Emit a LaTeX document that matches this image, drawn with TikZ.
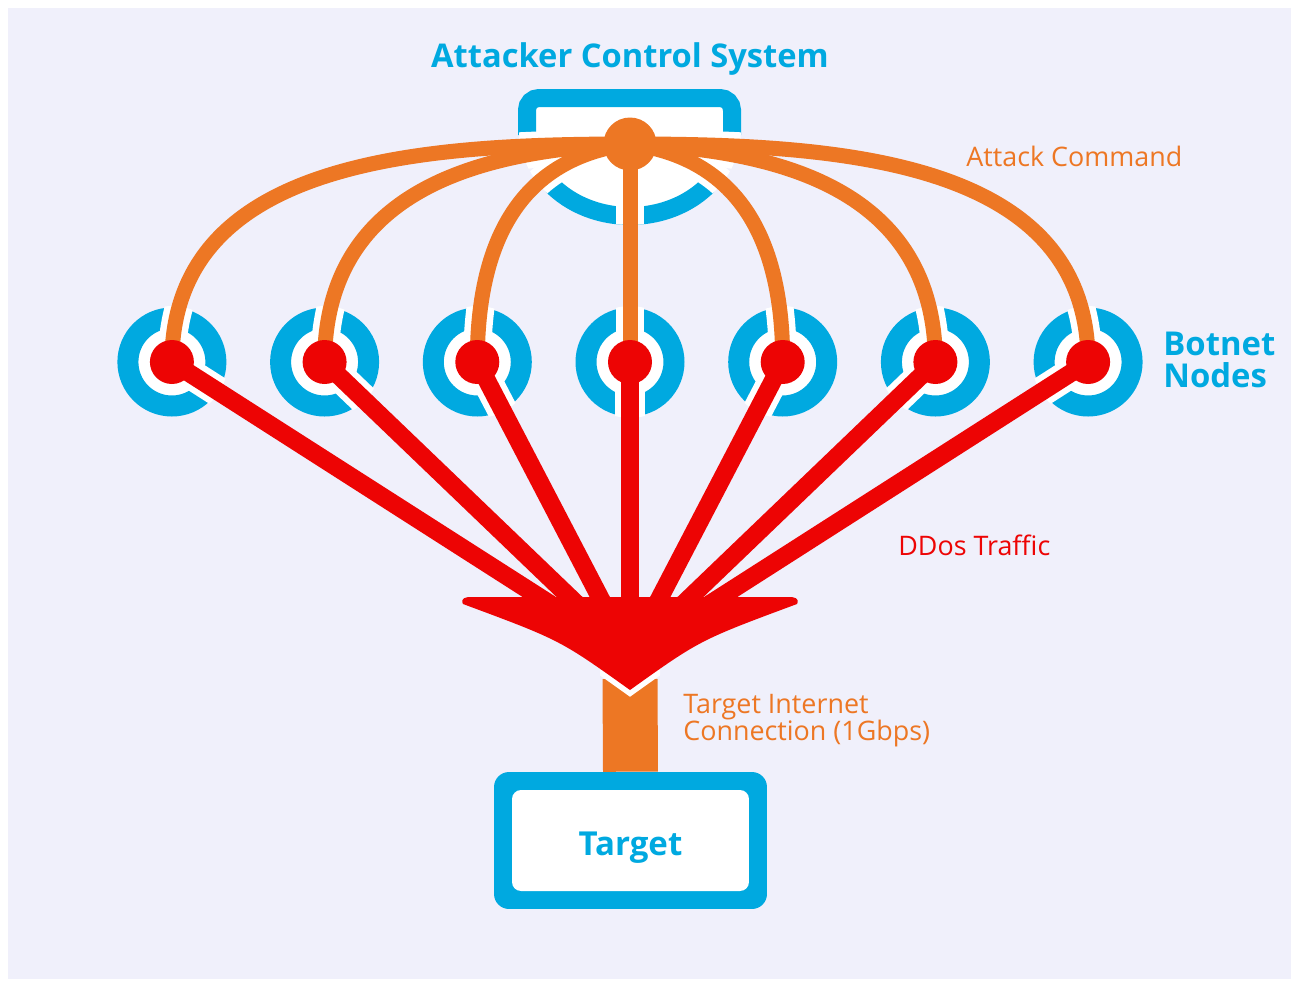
\documentclass[tikz,border=0pt]{standalone}
\usepackage{fontspec}
\setmainfont{Open Sans}
\usetikzlibrary{positioning}
\definecolor{ctrlblue} {RGB}{0,169,224}
\definecolor{cmdorange}{RGB}{237,119,36}
\definecolor{ddosred}  {RGB}{237,4,4}
\definecolor{bglav}    {RGB}{240,240,251}
\tikzset{
  ring/.style={circle,draw=ctrlblue,fill=white,line width=0.42cm,
               minimum size=1.76cm,inner sep=0pt,outer sep=0pt},
  botdot/.style={circle,fill=ddosred,minimum size=0.88cm,inner sep=0pt},
  cmddot/.style={circle,fill=cmdorange,minimum size=1.06cm,inner sep=0pt},
  cmdlink/.style={draw=cmdorange,line width=0.3cm},
  ddoslink/.style={draw=ddosred,line width=0.36cm},
  gapcmd/.style={draw=white,line width=0.56cm},
  gapddos/.style={draw=white,line width=0.6cm},
  iconline/.style={draw=ctrlblue,line width=0.36cm},
  ttl/.style={font=\bfseries\fontsize{18.6}{21}\selectfont,text=ctrlblue,
              inner sep=0pt},
  lbl/.style={font=\fontsize{15.3}{15.3}\selectfont,inner sep=0pt,align=left},
  targetframe/.style={fill=ctrlblue,rounded corners=0.3cm,
                      minimum width=5.46cm,minimum height=2.74cm},
  targetbox/.style={fill=white,rounded corners=0.18cm,
                    minimum width=4.74cm,minimum height=2.02cm,
                    text height=0.58cm,text depth=0pt,
                    font=\bfseries\fontsize{18.8}{21}\selectfont,text=ctrlblue},
}
\begin{document}
\begin{tikzpicture}[x=0.02cm,y=-0.02cm]
  \useasboundingbox (0,0) rectangle (1296,981);
  \fill[white] (0,0) rectangle (1296,981);
  \fill[bglav] (8,8) rectangle (1291,979);

  % Attacker icon
  \fill[white] (527,98) -- (732,98) -- (732,130)
    -- plot[domain=0:180,samples=40] ({630+102*cos(\x)},{130+86*sin(\x)}) -- cycle;
  \draw[iconline,rounded corners=0.24cm] (527,135) -- (527,98) -- (732,98) -- (732,135);
  \draw[iconline] plot[domain=40:140,samples=40] ({630+102*cos(\x)},{130+86*sin(\x)});
  \coordinate (cmd) at (630,144);

  % Botnet rings
  \foreach \i in {1,...,7}
    \node[ring] (bot\i) at ({630+152.7*(\i-4)},362) {};
  \coordinate (hub) at (630,655);

  % white gaps where the links cross the blue outlines
  \begin{scope}
    \clip (518,89) -- (741,89) -- (741,130)
      -- plot[domain=0:180,samples=40] ({630+111*cos(\x)},{130+95*sin(\x)}) -- cycle
      foreach \i in {1,...,7} {(bot\i.center) circle[radius=1.12cm]};
    \foreach \i/\ax/\ay/\bx/\by in {1/420/144/172/160,2/480/150/325/190,
        3/545/155/477/210,5/715/155/783/210,6/780/150/935/190,7/840/144/1088/160}
      \draw[gapcmd] (cmd) .. controls (\ax,\ay) and (\bx,\by) .. (bot\i.center);
    \draw[gapcmd] (cmd) -- (bot4.center);
    \foreach \i in {1,...,7}
      \draw[gapddos] (bot\i.center) -- (hub);
  \end{scope}

  % Attack command links
  \foreach \i/\ax/\ay/\bx/\by in {1/420/144/172/160,2/480/150/325/190,
      3/545/155/477/210,5/715/155/783/210,6/780/150/935/190,7/840/144/1088/160}
    \draw[cmdlink] (cmd) .. controls (\ax,\ay) and (\bx,\by) .. (bot\i.center);
  \draw[cmdlink] (cmd) -- (bot4.center);

  % DDoS traffic
  \foreach \i in {1,...,7}
    \draw[ddoslink] (bot\i.center) -- (hub);

  % Target connection
  \node[targetframe] (targetframe) at (630.5,840.5) {};
  \coordinate (bartop) at (630,679);
  \draw[cmdorange,line width=1.1cm] (bartop) -- (targetframe.north);
  \begin{scope}
    \clip (600,670) rectangle (660,772);
    \draw[white,line width=0.22cm] (797,604) .. controls (700,640) .. (630,690)
      .. controls (560,640) .. (463,604);
  \end{scope}
  \fill[ddosred] (463,604) .. controls (460,598) and (466,597) .. (471,597)
    -- (789,597) .. controls (794,597) and (800,598) .. (797,604)
    .. controls (700,640) .. (630,690) .. controls (560,640) .. (463,604) -- cycle;
  \node[targetbox] (target) at (630.5,840.5) {Target};

  % Dots on top
  \foreach \i in {1,...,7}
    \node[botdot] (dot\i) at (bot\i) {};
  \node[cmddot] (cc) at (cmd) {};

  % Labels
  \node[ttl,anchor=base] (title) at (630,67) {Attacker Control System};
  \node[lbl,text=cmdorange,anchor=base west] (cmdlbl) at (966,166) {Attack Command};
  \node[lbl,font=\bfseries\fontsize{18.7}{18.1}\selectfont,text=ctrlblue,
        anchor=base west] (botlbl) at (1163,387) {Botnet\\Nodes};
  \node[lbl,text=ddosred,anchor=base west] (ddoslbl) at (898,555) {DDos Traffic};
  \node[lbl,text=cmdorange,anchor=base west] (linklbl) at (683,740)
    {Target Internet\\Connection (1Gbps)};
\end{tikzpicture}
\end{document}
